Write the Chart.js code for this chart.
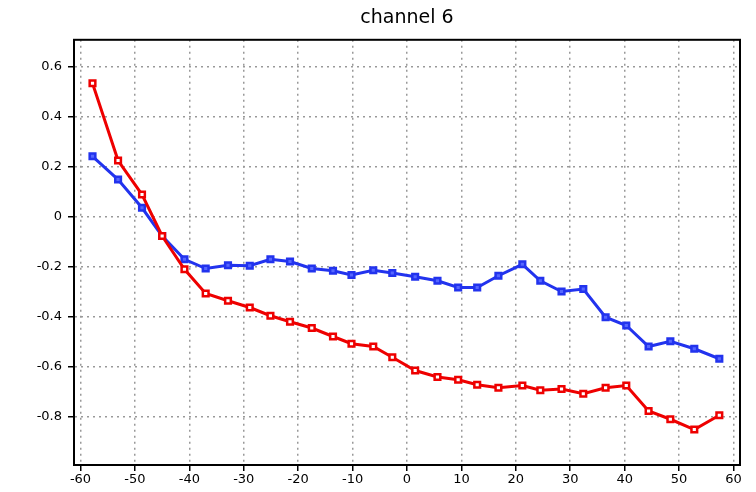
<!DOCTYPE html>
<html>
<head>
<meta charset="utf-8">
<script src="https://cdn.jsdelivr.net/npm/chart.js@4"></script>
<style>
  body { margin: 0; background: #fff; }
  #wrap { width: 756px; height: 492px; }
</style>
</head>
<body>
<div id="wrap"><canvas id="c"></canvas></div>
<script>
'use strict'

const xs = [-57.8, -53.1, -48.7, -45, -40.9, -37, -32.9, -28.9, -25.1, -21.5, -17.5, -13.6, -10.2, -6.2, -2.7,
  1.5, 5.6, 9.4, 12.9, 16.8, 21.2, 24.5, 28.4, 32.4, 36.5, 40.3, 44.4, 48.4, 52.8, 57.4];
const redVals = [0.534, 0.225, 0.089, -0.077, -0.21, -0.307, -0.336, -0.363, -0.396, -0.42, -0.445, -0.479, -0.508, -0.519, -0.562,
  -0.615, -0.641, -0.652, -0.672, -0.684, -0.675, -0.694, -0.689, -0.708, -0.684, -0.675, -0.777, -0.81, -0.851, -0.794];
const blueVals = [0.242, 0.149, 0.036, -0.077, -0.17, -0.207, -0.194, -0.196, -0.17, -0.179, -0.207, -0.216, -0.233, -0.214, -0.225,
  -0.24, -0.256, -0.283, -0.283, -0.236, -0.19, -0.256, -0.299, -0.289, -0.402, -0.435, -0.519, -0.498, -0.528, -0.568];
const xTicks = [-60, -50, -40, -30, -20, -10, 0, 10, 20, 30, 40, 50, 60];
const yTicks = [-0.8, -0.6, -0.4, -0.2, 0, 0.2, 0.4, 0.6];

let pts = (vals) => vals.map((v, i) => ({x: xs[i], y: v}));

let gridStyle = {color: '#999', lineWidth: 1.5, tickLength: 6, tickColor: '#000'};
let borderStyle = {color: '#000', width: 2, dash: [2, 4]};
let tickFont = {family: 'DejaVu Sans', size: 13};

new Chart(document.getElementById('c'), {
  type: 'line',
  data: {
    datasets: [
      {
        data: pts(redVals), borderColor: '#ee0000', borderWidth: 3,
        pointStyle: 'rect', pointRadius: 4, pointBorderWidth: 2.5,
        pointBackgroundColor: '#fff', pointBorderColor: '#ee0000', tension: 0
      },
      {
        data: pts(blueVals), borderColor: '#2233ee', borderWidth: 3,
        pointStyle: 'rect', pointRadius: 4, pointBorderWidth: 2.5,
        pointBackgroundColor: '#5566ff', pointBorderColor: '#2233ee', tension: 0
      }
    ]
  },
  options: {
    responsive: true,
    maintainAspectRatio: false,
    animation: false,
    layout: { padding: {left: 0, right: 16, top: 0, bottom: 0} },
    plugins: {
      legend: { display: false },
      tooltip: { enabled: false },
      title: {
        display: true, text: 'channel 6', color: '#000', fullSize: false,
        font: {family: 'DejaVu Sans', size: 19, weight: 'normal'},
        padding: {top: 7, bottom: 10}
      }
    },
    scales: {
      x: {
        type: 'linear', min: -61.2, max: 61.2,
        afterBuildTicks: (s) => { s.ticks = xTicks.map(v => ({value: v})); },
        afterFit: (s) => { s.height = 27; },
        grid: gridStyle,
        border: borderStyle,
        ticks: {color: '#000', font: tickFont, padding: 1, maxRotation: 0}
      },
      y: {
        min: -0.993, max: 0.708,
        afterBuildTicks: (s) => { s.ticks = yTicks.map(v => ({value: v})); },
        afterFit: (s) => { s.width = 74; },
        grid: gridStyle,
        border: borderStyle,
        ticks: {
          color: '#000', font: tickFont, padding: 6,
          callback: (v) => Math.abs(v) < 1e-9 ? '0' : String(Math.round(v * 10) / 10)
        }
      }
    }
  },
  plugins: [{
    id: 'frame',
    afterDraw: (chart) => {
      let {ctx, chartArea: a} = chart;
      ctx.save();
      ctx.strokeStyle = '#000';
      ctx.lineWidth = 2;
      ctx.strokeRect(a.left, a.top, a.right - a.left, a.bottom - a.top);
      ctx.restore();
    }
  }]
});
</script>
</body>
</html>
